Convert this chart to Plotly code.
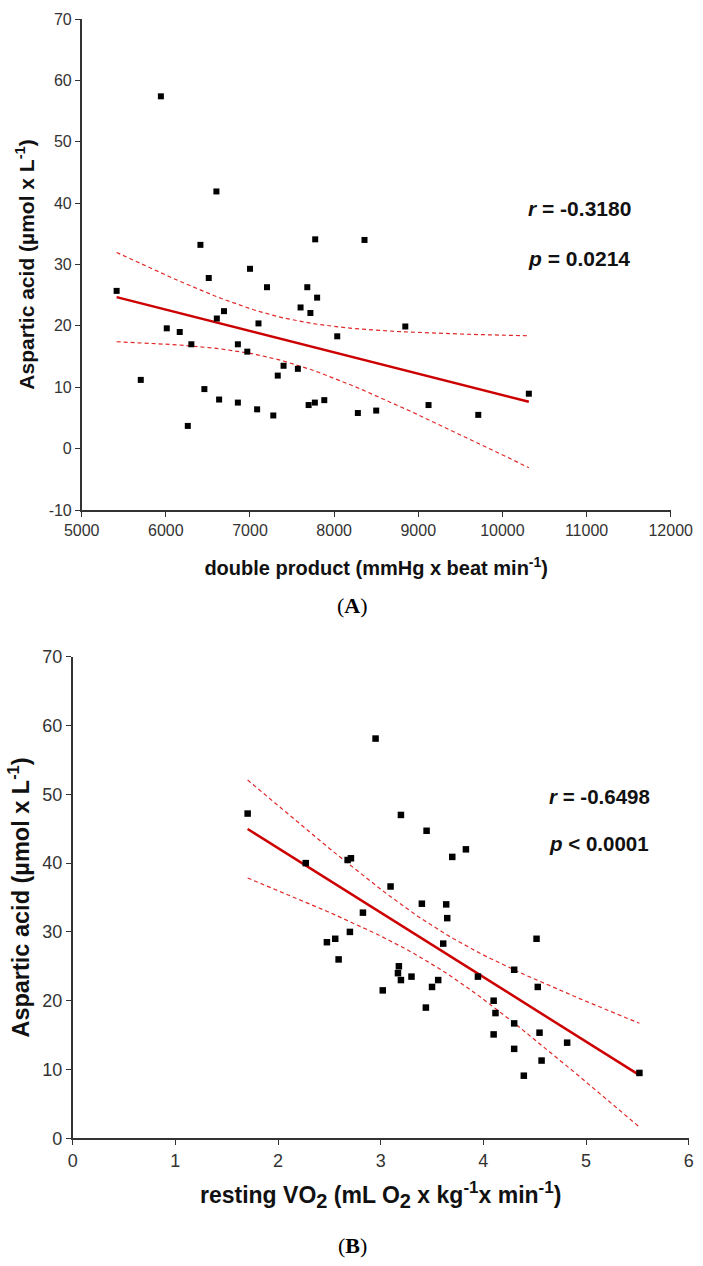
import numpy as np
import plotly.graph_objects as go

# ---------------- data: panel A ----------------
dp_x = [5415, 5702, 5941, 6011, 6165, 6261, 6303, 6411, 6458, 6510, 6601, 6606, 6633,
        6691, 6856, 6856, 6968, 7000, 7085, 7101, 7202, 7277, 7330, 7399, 7569, 7601,
        7681, 7697, 7718, 7771, 7775, 7798, 7883, 8037, 8282, 8361, 8500, 8846, 9122,
        9713, 10314]
dp_y = [25.7, 11.2, 57.4, 19.6, 19.0, 3.7, 17.0, 33.2, 9.7, 27.8, 41.9, 21.2, 8.0,
        22.4, 17.0, 7.5, 15.8, 29.3, 6.4, 20.4, 26.3, 5.4, 11.9, 13.5, 13.0, 23.0,
        26.3, 7.1, 22.1, 7.5, 34.1, 24.6, 7.9, 18.3, 5.8, 34.0, 6.2, 19.9, 7.1,
        5.5, 8.95]

# ---------------- data: panel B ----------------
vo2_x = [1.704, 2.27, 2.678, 2.71, 2.95, 3.197, 3.447, 3.83, 3.697, 3.096, 3.401, 3.638,
         3.648, 2.827, 2.70, 2.557, 2.476, 2.59, 3.609, 3.177, 3.168, 3.197, 3.30, 3.56,
         3.50, 3.02, 3.44, 3.947, 4.30, 4.53, 4.10, 4.118, 4.30, 4.10, 4.547, 4.816,
         4.30, 4.567, 4.394, 5.52, 4.518]
vo2_y = [47.2, 40.0, 40.45, 40.7, 58.1, 47.0, 44.7, 42.0, 40.9, 36.6, 34.1, 34.0,
         32.0, 32.8, 30.0, 29.0, 28.5, 26.0, 28.3, 25.0, 24.0, 23.0, 23.5, 23.0,
         22.0, 21.5, 19.0, 23.5, 24.5, 22.0, 20.0, 18.2, 16.7, 15.1, 15.35, 13.9,
         13.0, 11.3, 9.1, 9.5, 29.0]

# tick labels
a_xticks = [5000, 6000, 7000, 8000, 9000, 10000, 11000, 12000]
a_yticks = [-10, 0, 10, 20, 30, 40, 50, 60, 70]
b_xticks = [0, 1, 2, 3, 4, 5, 6]
b_yticks = [0, 10, 20, 30, 40, 50, 60, 70]

stats_a = ["<b><i>r</i> = -0.3180</b>", "<b><i>p</i> = 0.0214</b>"]
stats_b = ["<b><i>r</i> = -0.6498</b>", "<b><i>p</i> &lt; 0.0001</b>"]


def fit_with_ci(x, y, npts=60):
    x = np.asarray(x, float)
    y = np.asarray(y, float)
    n = len(x)
    b, a = np.polyfit(x, y, 1)
    resid = y - (a + b * x)
    s = np.sqrt(np.sum(resid ** 2) / (n - 2))
    xbar = x.mean()
    sxx = np.sum((x - xbar) ** 2)
    xs = np.linspace(x.min(), x.max(), npts)
    ys = a + b * xs
    t = 2.0227  # t(0.975, 39)
    half = t * s * np.sqrt(1.0 / n + (xs - xbar) ** 2 / sxx)
    return xs, ys, ys - half, ys + half


W, H = 703, 1266
FONT = "Arial, 'Liberation Sans', sans-serif"
RED = "rgb(204,0,0)"
RED_D = "rgb(225,40,40)"
AX = "#333333"

fig = go.Figure()

for (xx, yy, xa, ya, ms) in [(dp_x, dp_y, "x", "y", 6), (vo2_x, vo2_y, "x2", "y2", 6.5)]:
    xs, ys, lo, hi = fit_with_ci(xx, yy)
    for band in (lo, hi):
        fig.add_trace(go.Scatter(x=xs, y=band, mode="lines", xaxis=xa, yaxis=ya,
                                 line=dict(color=RED_D, width=1.2, dash="4px,3px"),
                                 showlegend=False, hoverinfo="skip"))
    fig.add_trace(go.Scatter(x=xs, y=ys, mode="lines", xaxis=xa, yaxis=ya,
                             line=dict(color=RED, width=2.5),
                             showlegend=False, hoverinfo="skip"))
    fig.add_trace(go.Scatter(x=xx, y=yy, mode="markers", xaxis=xa, yaxis=ya,
                             marker=dict(symbol="square", size=ms, color="black"),
                             cliponaxis=False, showlegend=False))


def px2x(p):
    return p / W


def px2y(p):
    return 1 - p / H


def axis_common(fs):
    return dict(showgrid=False, zeroline=False, showline=True, linecolor=AX,
                linewidth=1.5, ticks="outside", ticklen=5, tickwidth=1.3,
                tickcolor=AX, tickfont=dict(family=FONT, size=fs, color="#333333"),
                automargin=False, mirror=False)


SUB2 = "<sub><span style='font-size:20px'>2</span></sub>"
SUPM1 = "<sup><span style='font-size:17px'>-1</span></sup>"

fig.update_layout(
    width=W, height=H, margin=dict(l=0, r=0, t=0, b=0),
    paper_bgcolor="white", plot_bgcolor="white", showlegend=False,
    xaxis=dict(domain=[px2x(81.7), px2x(670.7)], range=[5000, 12000], anchor="y",
               tickvals=a_xticks, ticktext=[str(v) for v in a_xticks],
               title=dict(text="<b>double product (mmHg x beat min<sup>-1</sup>)</b>",
                          font=dict(family=FONT, size=20, color="#111111"), standoff=23),
               **axis_common(16)),
    yaxis=dict(domain=[px2y(510), px2y(19)], range=[-10, 70], anchor="x",
               tickvals=a_yticks, ticktext=[str(v) for v in a_yticks],
               title=dict(text="<b>Aspartic acid (µmol x L<sup>-1</sup>)</b>",
                          font=dict(family=FONT, size=21, color="#111111"), standoff=8),
               **axis_common(16)),
    xaxis2=dict(domain=[px2x(72.7), px2x(688.7)], range=[0, 6], anchor="y2",
                tickvals=b_xticks, ticktext=[str(v) for v in b_xticks],
                title=dict(text="<b>resting VO" + SUB2 + " (mL O" + SUB2 + " x kg" + SUPM1
                                + "x min" + SUPM1 + ")</b>",
                           font=dict(family=FONT, size=23, color="#111111"), standoff=17),
                **axis_common(18)),
    yaxis2=dict(domain=[px2y(1138.3), px2y(656.7)], range=[0, 70], anchor="y2" if False else "x2",
                tickvals=b_yticks, ticktext=[str(v) for v in b_yticks],
                title=dict(text="<b>Aspartic acid (µmol x L<sup>-1</sup>)</b>",
                           font=dict(family=FONT, size=23.5, color="#111111"), standoff=6),
                **axis_common(18)),
)

ann = []
for txt, ypix in zip(stats_a, [208, 258]):
    ann.append(dict(text=txt, x=px2x(526), y=px2y(ypix), xref="paper", yref="paper",
                    xanchor="left", yanchor="middle", showarrow=False,
                    font=dict(family=FONT, size=21, color="#111111")))
for txt, ypix in zip(stats_b, [796, 843]):
    ann.append(dict(text=txt, x=px2x(547), y=px2y(ypix), xref="paper", yref="paper",
                    xanchor="left", yanchor="middle", showarrow=False,
                    font=dict(family=FONT, size=20.5, color="#111111")))
for txt, ypix in [("(<b>A</b>)", 606), ("(<b>B</b>)", 1245)]:
    ann.append(dict(text=txt, x=px2x(352), y=px2y(ypix), xref="paper", yref="paper",
                    xanchor="center", yanchor="middle", showarrow=False,
                    font=dict(family="'Times New Roman', 'Liberation Serif', serif",
                              size=22, color="black")))
fig.update_layout(annotations=ann)

fig.write_html("out.html", config={"displayModeBar": False},
               post_script="document.body.style.margin='0';")
